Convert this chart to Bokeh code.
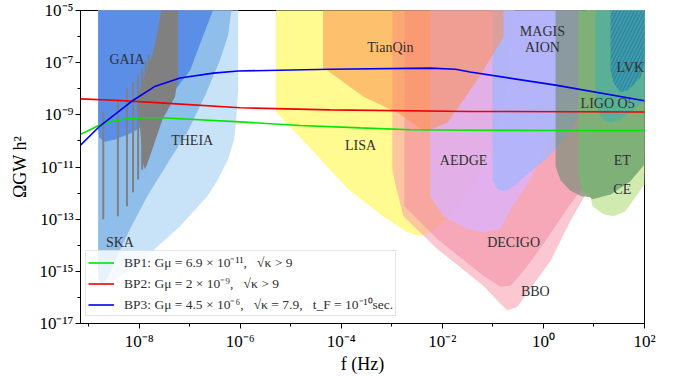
import numpy as np
from bokeh.plotting import figure
from bokeh.models import Range1d, FixedTicker, CustomJSTickFormatter, Legend, LegendItem
from bokeh.core.properties import value
from bokeh.embed import file_html
from bokeh.resources import INLINE

SERIF = "Liberation Serif"

# ---------------- benchmark spectra: log10 f [Hz], log10 Omega_GW h^2 ----------------
bp1_logf = [-9.17, -8.97, -8.77, -8.48, -8.24, -7.88, -7.58, -7.19, -6.0, -4.81, -3.62, -2.63, -1.45, 0.14, 2.0]
bp1_logO = [-9.76, -9.57, -9.38, -9.23, -9.15, -9.11, -9.11, -9.15, -9.27, -9.41, -9.50, -9.57, -9.59, -9.60, -9.60]

bp2_logf = [-9.17, -8.38, -7.58, -6.0, -4.22, -1.45, 2.0]
bp2_logO = [-8.39, -8.45, -8.54, -8.73, -8.81, -8.87, -8.89]

bp3_logf = [-9.17, -8.77, -8.14, -7.68, -7.19, -6.53, -6.04, -4.22, -2.24, -1.74, -1.45, 0.24, 2.0]
bp3_logO = [-10.18, -9.42, -8.47, -7.90, -7.59, -7.40, -7.32, -7.25, -7.21, -7.25, -7.36, -7.86, -8.46]

bp_labels = [
    "BP1: Gμ = 6.9 × 10⁻¹¹,   √κ > 9",
    "BP2: Gμ = 2 × 10⁻⁹,   √κ > 9",
    "BP3: Gμ = 4.5 × 10⁻⁶,   √κ = 7.9,   t_F = 10⁻¹⁰sec.",
]

# ---------------- sensitivity regions: log10 f, log10 Omega ----------------
theia_logf = [-8.81, -6.04, -6.04, -6.08, -6.12, -6.24, -6.44, -6.65, -7.19, -7.84, -8.44, -8.67, -8.79, -8.81]
theia_logO = [-4.5, -4.5, -8.05, -9.19, -9.95, -10.71, -11.48, -12.12, -13.27, -14.41, -15.29, -15.59, -15.48, -14.90]

ska_logf = [-8.81, -6.14, -6.24, -6.40, -6.69, -7.05, -7.39, -7.84, -8.18, -8.48, -8.61, -8.73, -8.81]
ska_logO = [-4.5, -4.5, -5.95, -6.90, -8.24, -9.69, -10.71, -12.12, -13.38, -14.60, -15.21, -15.48, -15.29]

gaia_logf = [-8.81, -6.44, -6.79, -6.99, -7.29, -7.74, -8.14, -8.48, -8.67, -8.79, -8.81]
gaia_logO = [-4.5, -4.5, -6.26, -7.29, -8.05, -9.19, -9.69, -9.95, -10.03, -9.88, -9.57]

# oscillating (PTA-like) grey curve: isolated dips and the dense part
dip_logf = [-8.71, -8.42, -8.24, -8.12, -8.02, -7.94, -7.87, -7.81]
dip_top = [-8.89, -8.50, -7.97, -7.74, -7.48, -7.21, -6.95, -6.70]
dip_bot = [-13.00, -12.89, -12.50, -11.97, -11.48, -11.10, -10.90, -10.60]
dense_logf = [-7.52, -7.23, -7.23, -7.29, -7.54, -7.74, -7.88, -7.92, -7.98, -8.04, -7.92, -7.74, -7.64]
dense_logO = [-4.5, -4.5, -7.55, -8.31, -9.19, -10.33, -11.10, -10.90, -9.57, -8.43, -7.66, -6.71, -5.88]

lisa_logf = [-5.29, -5.29, -4.81, -3.86, -3.17, -2.69, -2.44, -2.20, -1.84, -1.45, -1.05, -0.75, -0.55]
lisa_logO = [-4.5, -8.89, -9.87, -11.86, -12.89, -13.50, -13.65, -13.50, -12.81, -11.86, -10.33, -8.43, -4.5]

bbo_logf = [-2.99, -2.99, -2.93, -2.77, -2.10, -1.19, -0.85, -0.71, -0.51, -0.26, 0.14, 0.53, 0.87, 1.13, 1.52, 1.92, 2.12]
bbo_logO = [-4.5, -11.10, -11.67, -12.89, -14.14, -15.55, -16.24, -16.50, -16.35, -15.67, -14.60, -13.08, -11.93, -10.71, -8.81, -6.52, -4.5]

decigo_logf = [-2.75, -2.75, -2.10, -1.19, -0.85, -0.65, -0.36, 0.0, 0.53, 0.79, 1.13, 1.52, 1.92, 2.12]
decigo_logO = [-4.5, -12.50, -13.76, -15.17, -15.59, -15.55, -14.90, -13.95, -12.43, -11.78, -10.33, -8.43, -6.33, -4.5]

aedge_logf = [-2.24, -2.24, -1.98, -1.50, -1.19, -0.85, -0.59, -0.32, 0.04, 0.34, 0.63, 0.77]
aedge_logO = [-4.5, -12.12, -12.89, -13.38, -13.50, -13.38, -12.43, -11.67, -10.33, -8.81, -6.90, -4.5]

magis_logf = [-1.01, -1.01, -0.91, -0.75, -0.55, -0.26, 0.04, 0.24, 0.53, 0.83, 0.93]
magis_logO = [-4.5, -11.48, -11.86, -11.93, -11.67, -11.17, -10.71, -10.33, -9.57, -8.81, -4.5]

tianqin_logf = [-4.36, -4.36, -4.28, -3.56, -2.89, -2.34, -1.90, -1.58, -1.25, -0.79, -0.79]
tianqin_logO = [-4.5, -7.21, -7.29, -8.31, -8.92, -9.65, -9.30, -8.43, -7.48, -6.03, -4.5]

column_logf = [0.24, 0.24, 0.34, 0.53, 0.75, 0.93, 0.93]
column_logO = [-4.5, -10.98, -11.52, -11.90, -12.12, -12.16, -4.5]

ce_logf = [0.87, 0.87, 0.97, 1.19, 1.39, 1.62, 2.0, 2.12]
ce_logO = [-4.5, -11.48, -12.50, -12.81, -12.89, -12.70, -11.67, -4.5]

et_logf = [0.69, 0.69, 0.77, 0.97, 1.33, 1.72, 2.0, 2.12]
et_logO = [-4.5, -11.29, -11.93, -12.24, -12.05, -11.55, -10.90, -4.5]

ligo_logf = [1.03, 1.03, 1.09, 1.21, 1.33, 1.52, 1.78, 2.02, 2.12]
ligo_logO = [-4.5, -8.43, -8.92, -9.23, -9.30, -9.19, -8.81, -8.43, -4.5]

lvk_logf = [1.33, 1.33, 1.39, 1.52, 1.68, 1.92, 2.08, 2.12]
lvk_logO = [-4.5, -7.29, -7.78, -8.12, -8.05, -7.55, -6.71, -4.5]

# ---------------- text labels ----------------
lab_text = ["GAIA", "THEIA", "SKA", "TianQin", "LISA", "AEDGE", "MAGIS", "AION",
            "LVK", "LIGO O5", "ET", "CE", "DECIGO", "BBO"]
lab_logf = [-8.24, -6.95, -8.38, -3.03, -3.62, -1.58, -0.02, -0.02,
            1.72, 1.27, 1.56, 1.56, -0.59, -0.16]
lab_logO = [-6.87, -9.99, -13.88, -6.41, -10.18, -10.75, -5.80, -6.41,
            -7.17, -8.58, -10.75, -11.86, -13.88, -15.78]

# ---------------- figure ----------------
p = figure(width=688, height=376, x_axis_type="log", y_axis_type="log",
           x_range=Range1d(10 ** -9.16, 1e2), y_range=Range1d(1e-17, 1e-5),
           output_backend="svg", toolbar_location=None,
           min_border_left=80, min_border_right=44, min_border_top=10, min_border_bottom=51)
p.xgrid.visible = False
p.ygrid.visible = False
p.outline_line_color = "black"
p.outline_line_width = 1
p.outline_line_alpha = 1


def region(lf, lo, color, alpha=1.0, **kw):
    return p.patch(10 ** np.array(lf), 10 ** np.array(lo), fill_color=color,
                   fill_alpha=alpha, line_color=None, **kw)


region(theia_logf, theia_logO, "#c8e3f8")
region(ska_logf, ska_logO, "#8ebee9")
region(gaia_logf, gaia_logO, "#5b8ee6")
region(dense_logf, dense_logO, "#808080")
p.segment(x0=10 ** np.array(dip_logf), y0=10 ** np.array(dip_top),
          x1=10 ** np.array(dip_logf), y1=10 ** np.array(dip_bot),
          line_color="#808080", line_width=2)

region(lisa_logf, lisa_logO, "#fffb90")
region(bbo_logf, bbo_logO, "#f89bad", 0.55)
region(decigo_logf, decigo_logO, "#f3889e", 0.5)
region(aedge_logf, aedge_logO, "#dbb3fd", 0.75)
region(magis_logf, magis_logO, "#a8b5fd", 0.8)
region(tianqin_logf, tianqin_logO, "#fc8f51", 0.55)
region(column_logf, column_logO, "#768e76", 0.68)
region(ce_logf, ce_logO, "#d0eab0")
region(et_logf, et_logO, "#7eb078")
region(ligo_logf, ligo_logO, "#5ab096")
region(lvk_logf, lvk_logO, "#3c9baf", 1.0, hatch_pattern="/", hatch_color="#24707f",
       hatch_scale=7, hatch_weight=0.7)

p.text(x=10 ** np.array(lab_logf), y=10 ** np.array(lab_logO), text=lab_text,
       text_align="center", text_baseline="middle", text_font=value(SERIF),
       text_font_size="14px", text_color="#303030")

r1 = p.line(10 ** np.array(bp1_logf), 10 ** np.array(bp1_logO), line_color="#00e600", line_width=1.6)
r2 = p.line(10 ** np.array(bp2_logf), 10 ** np.array(bp2_logO), line_color="#ee0000", line_width=1.6)
r3 = p.line(10 ** np.array(bp3_logf), 10 ** np.array(bp3_logO), line_color="#0000ee", line_width=1.6)

legend = Legend(items=[LegendItem(label=bp_labels[0], renderers=[r1]),
                       LegendItem(label=bp_labels[1], renderers=[r2]),
                       LegendItem(label=bp_labels[2], renderers=[r3])],
                location=(5, 7))
legend.background_fill_color = "white"
legend.background_fill_alpha = 0.8
legend.border_line_color = "#cccccc"
legend.label_text_font = SERIF
legend.label_text_font_size = "13.5px"
legend.label_text_color = "#303030"
legend.glyph_width = 26
legend.glyph_height = 17
legend.label_height = 17
legend.spacing = 3
legend.padding = 2
legend.margin = 0
legend.label_standoff = 10
p.add_layout(legend)

# ---------------- axes ----------------
x_major = [1e-8, 1e-6, 1e-4, 1e-2, 1e0, 1e2]
x_minor = [1e-9, 1e-7, 1e-5, 1e-3, 1e-1, 1e1]
y_major = [1e-17, 1e-15, 1e-13, 1e-11, 1e-9, 1e-7, 1e-5]
y_minor = [1e-16, 1e-14, 1e-12, 1e-10, 1e-8, 1e-6]
p.xaxis.ticker = FixedTicker(ticks=x_major, minor_ticks=x_minor)
p.yaxis.ticker = FixedTicker(ticks=y_major, minor_ticks=y_minor)

fmt = CustomJSTickFormatter(code="""
const sup = {'-':'\u207b','0':'\u2070','1':'\u00b9','2':'\u00b2','3':'\u00b3','4':'\u2074',
             '5':'\u2075','6':'\u2076','7':'\u2077','8':'\u2078','9':'\u2079'};
const e = Math.round(Math.log10(tick));
return '10' + String(e).split('').map(c => sup[c]).join('');
""")
for ax in (p.xaxis, p.yaxis):
    ax.formatter = fmt
    ax.major_tick_in = 0
    ax.major_tick_out = 5
    ax.minor_tick_in = 0
    ax.minor_tick_out = 3
    ax.axis_line_color = "black"
    ax.major_tick_line_color = "black"
    ax.minor_tick_line_color = "black"
    ax.major_label_text_font = SERIF
    ax.major_label_text_font_size = "17px"
    ax.major_label_text_color = "black"
    ax.axis_label_text_font = SERIF
    ax.axis_label_text_font_size = "18px"
    ax.axis_label_text_font_style = "normal"
    ax.axis_label_text_color = "black"

p.xaxis.axis_label = "f (Hz)"
p.yaxis.axis_label = "ΩGW h²"
p.xaxis.axis_label_standoff = 0
p.yaxis.axis_label_standoff = 6
p.xaxis.major_label_standoff = 3
p.yaxis.major_label_standoff = 2

open("out.html", "w").write(file_html(p, INLINE))
